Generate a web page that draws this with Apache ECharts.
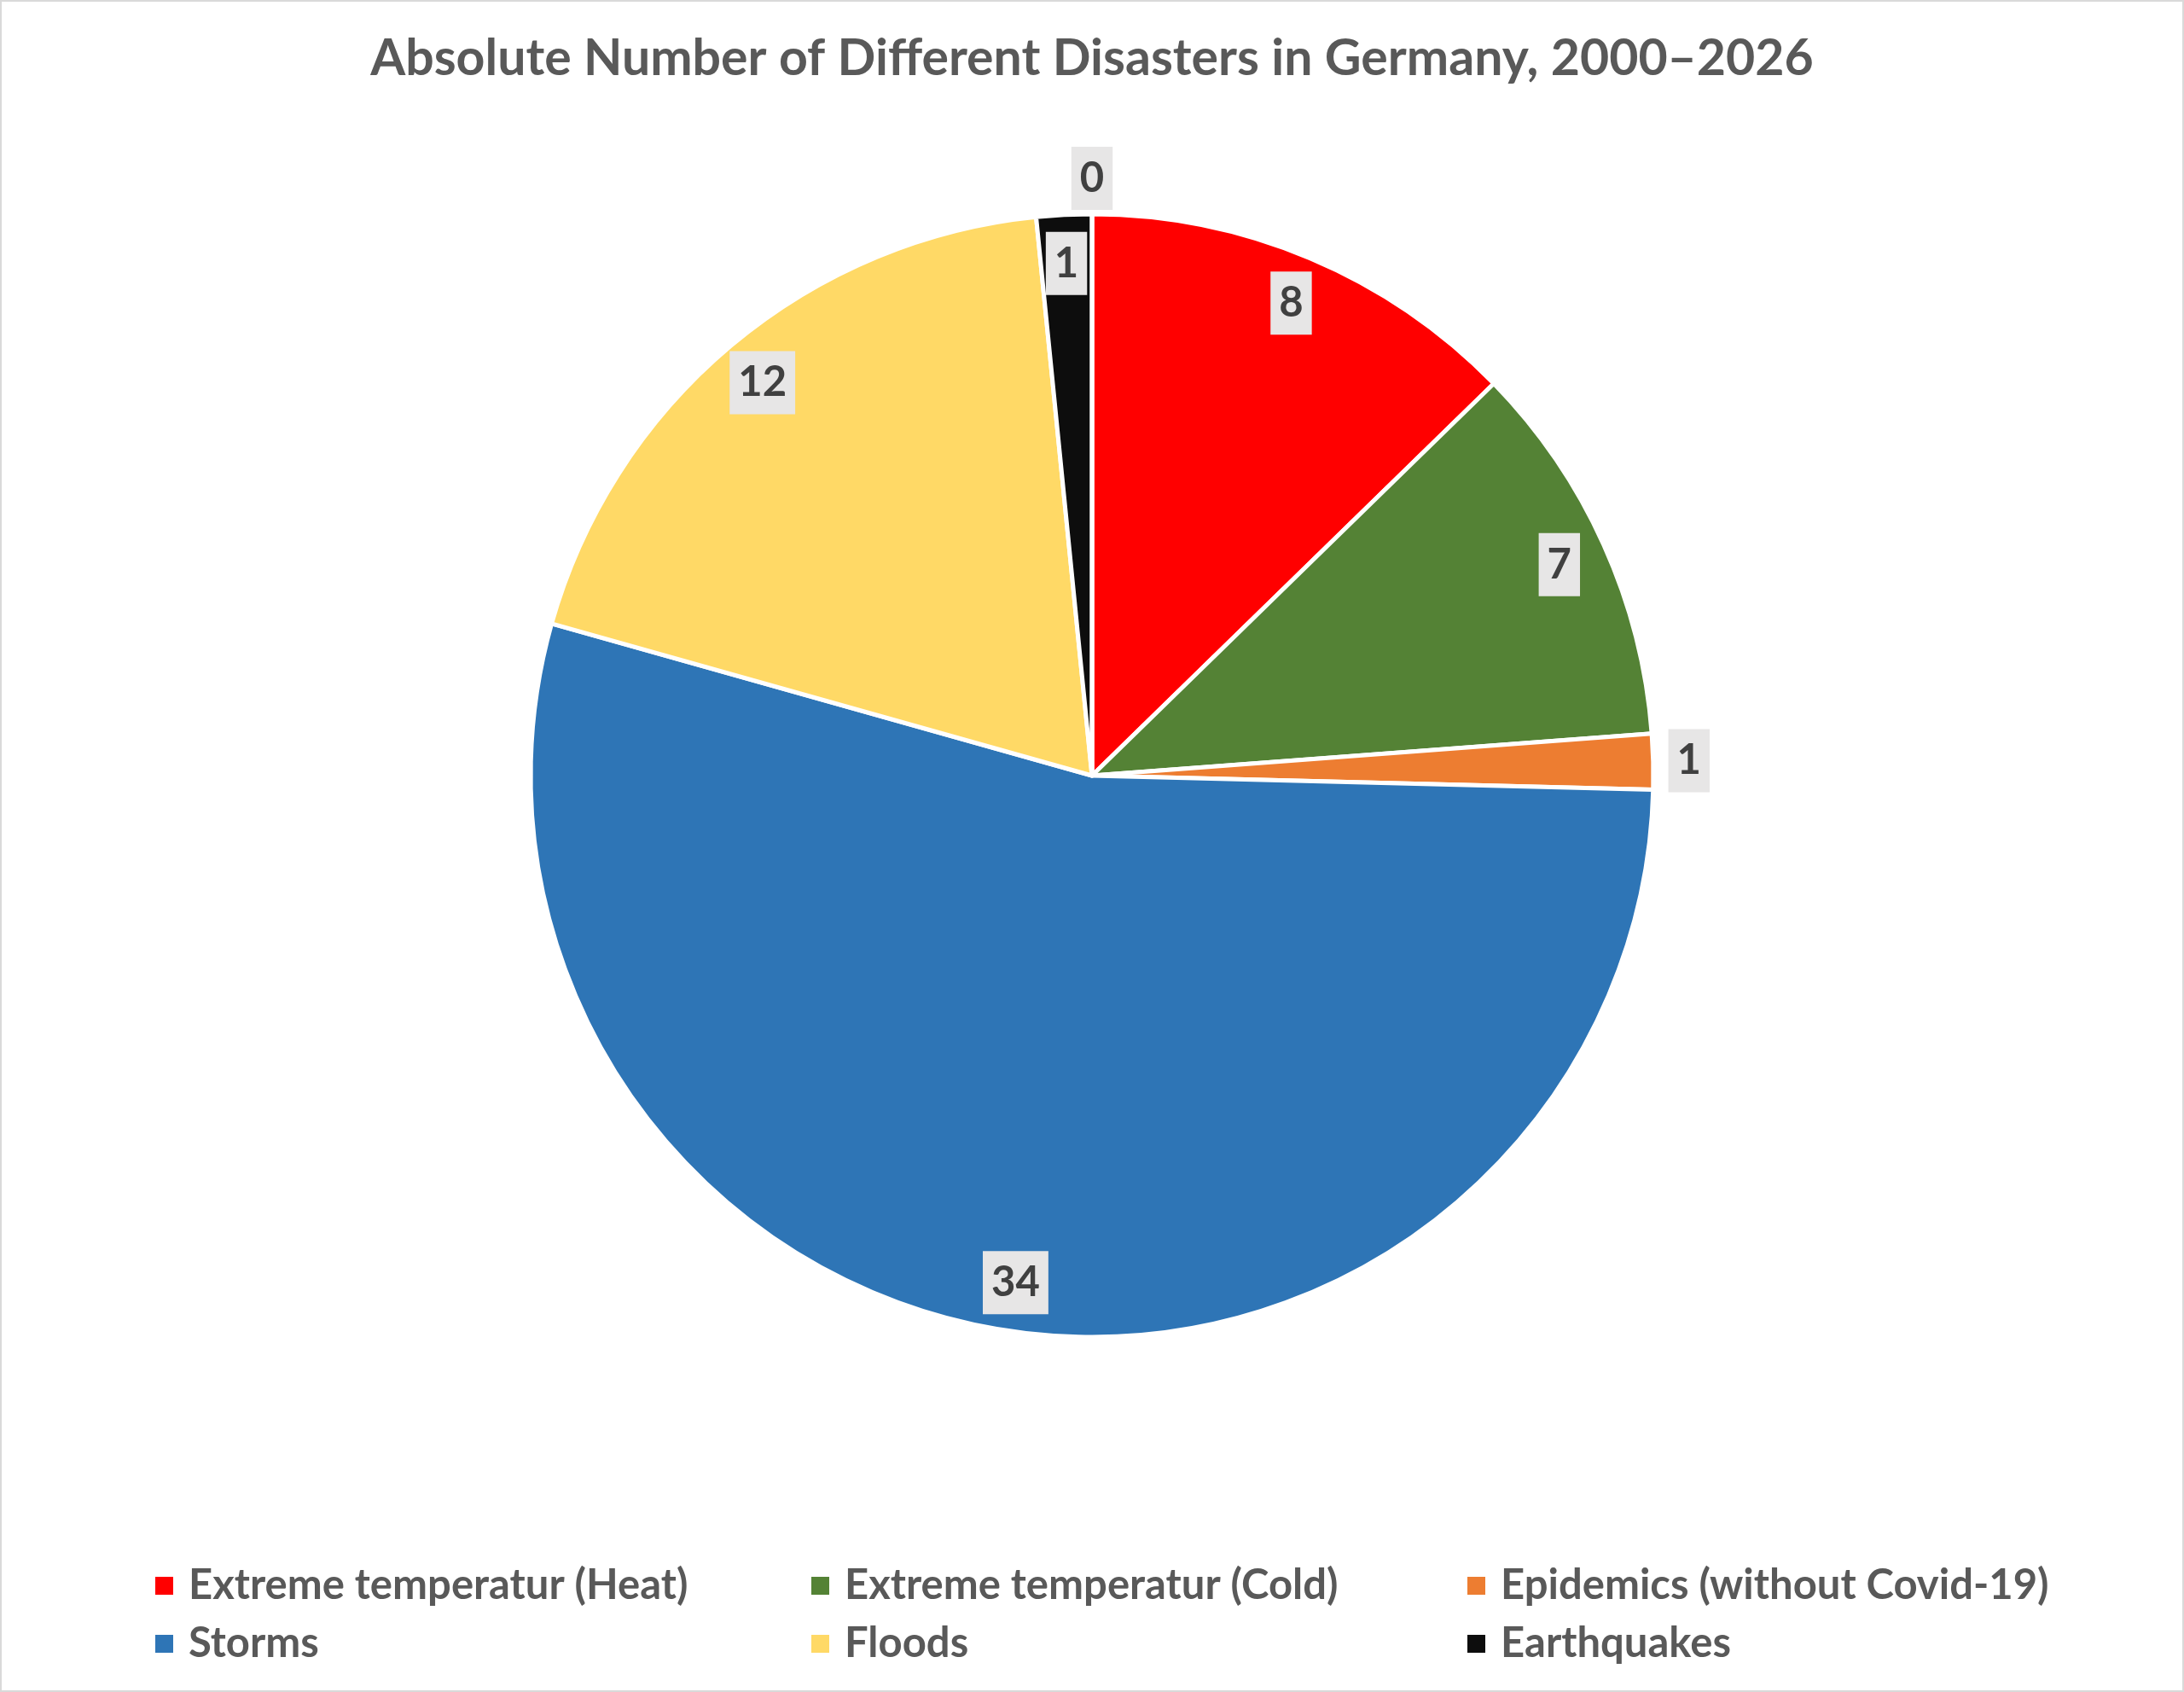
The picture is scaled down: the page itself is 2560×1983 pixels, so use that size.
<!DOCTYPE html>
<html>
<head>
<meta charset="utf-8">
<title>Absolute Number of Different Disasters in Germany</title>
<script src="https://cdn.jsdelivr.net/npm/echarts@6/dist/echarts.min.js"></script>
<style>
    html, body { margin: 0; padding: 0; background: #fff; }
    #chart {
        width: 2560px;
        height: 1983px;
        box-sizing: border-box;
        border: 2px solid #d9d9d9;
    }
</style>
</head>
<body>
<div id="chart"></div>
<script>
// 資料
const categories = [
    'Extreme temperatur (Heat)',
    'Extreme temperatur (Cold)',
    'Epidemics (without Covid-19)',
    'Storms',
    'Floods',
    'Earthquakes',
    'Wildfires'
];
const counts = [8, 7, 1, 34, 12, 1, 0];
const sliceColors = ['#ff0000', '#548235', '#ed7d31', '#2e75b6', '#ffd966', '#0d0d0d', '#a5a5a5'];
// 標籤放在圓外的類別
const outsideLabels = ['Epidemics (without Covid-19)', 'Wildfires'];
// 圖例 (兩列)
const legendRow1 = categories.slice(0, 3);
const legendRow2 = categories.slice(3, 6);

const chart = echarts.init(document.getElementById('chart'));

const labelBox = {
    color: '#404040',
    fontFamily: 'Lato',
    fontWeight: 'bold',
    fontSize: 49,
    lineHeight: 50,
    backgroundColor: '#e7e6e6',
    padding: [12, 10]
};

const pieData = categories.map((name, i) => ({
    name: name,
    value: counts[i],
    itemStyle: { color: sliceColors[i] }
}));

// 只放標籤的透明環
function labelRing(outside) {
    return categories.map((name, i) => ({
        name: name,
        value: counts[i],
        itemStyle: { color: 'rgba(0,0,0,0)' },
        label: { show: outsideLabels.includes(name) === outside }
    }));
}

const legendText = {
    color: '#595959',
    fontFamily: 'Lato',
    fontWeight: 'bold',
    fontSize: 49,
    lineHeight: 46,
    width: 700,
    padding: [0, 0, 0, 12]
};

const option = {
    animation: false,
    backgroundColor: '#fff',
    title: {
        text: 'Absolute Number of Different Disasters in Germany, 2000\u20132026',
        left: 'center',
        top: 37,
        padding: 0,
        textStyle: {
            color: '#595959',
            fontFamily: 'Lato',
            fontWeight: 'bold',
            fontSize: 59
        }
    },
    legend: [
        {
            data: legendRow1,
            left: 178,
            top: 1832,
            padding: 0,
            itemGap: 28,
            itemWidth: 23,
            itemHeight: 23,
            icon: 'rect',
            selectedMode: false,
            textStyle: legendText
        },
        {
            data: legendRow2,
            left: 178,
            top: 1900,
            padding: 0,
            itemGap: 28,
            itemWidth: 23,
            itemHeight: 23,
            icon: 'rect',
            selectedMode: false,
            textStyle: legendText
        }
    ],
    series: [
        {
            name: 'Disasters',
            type: 'pie',
            center: [1278, 907],
            radius: [0, 658],
            startAngle: 90,
            clockwise: true,
            avoidLabelOverlap: false,
            label: { show: false },
            labelLine: { show: false },
            emphasis: { disabled: true },
            itemStyle: { borderColor: '#fff', borderWidth: 5 },
            data: pieData
        },
        {
            name: 'inner labels',
            type: 'pie',
            silent: true,
            center: [1278, 907],
            radius: [538, 658],
            startAngle: 90,
            avoidLabelOverlap: false,
            legendHoverLink: false,
            label: Object.assign({ position: 'inside', formatter: '{c}' }, labelBox),
            labelLine: { show: false },
            emphasis: { disabled: true },
            data: labelRing(false)
        },
        {
            name: 'outer labels',
            type: 'pie',
            silent: true,
            center: [1278, 907],
            radius: [650, 744],
            startAngle: 90,
            avoidLabelOverlap: false,
            legendHoverLink: false,
            label: Object.assign({ position: 'inside', formatter: '{c}' }, labelBox),
            labelLine: { show: false },
            emphasis: { disabled: true },
            data: labelRing(true)
        }
    ]
};

chart.setOption(option);
</script>
</body>
</html>
